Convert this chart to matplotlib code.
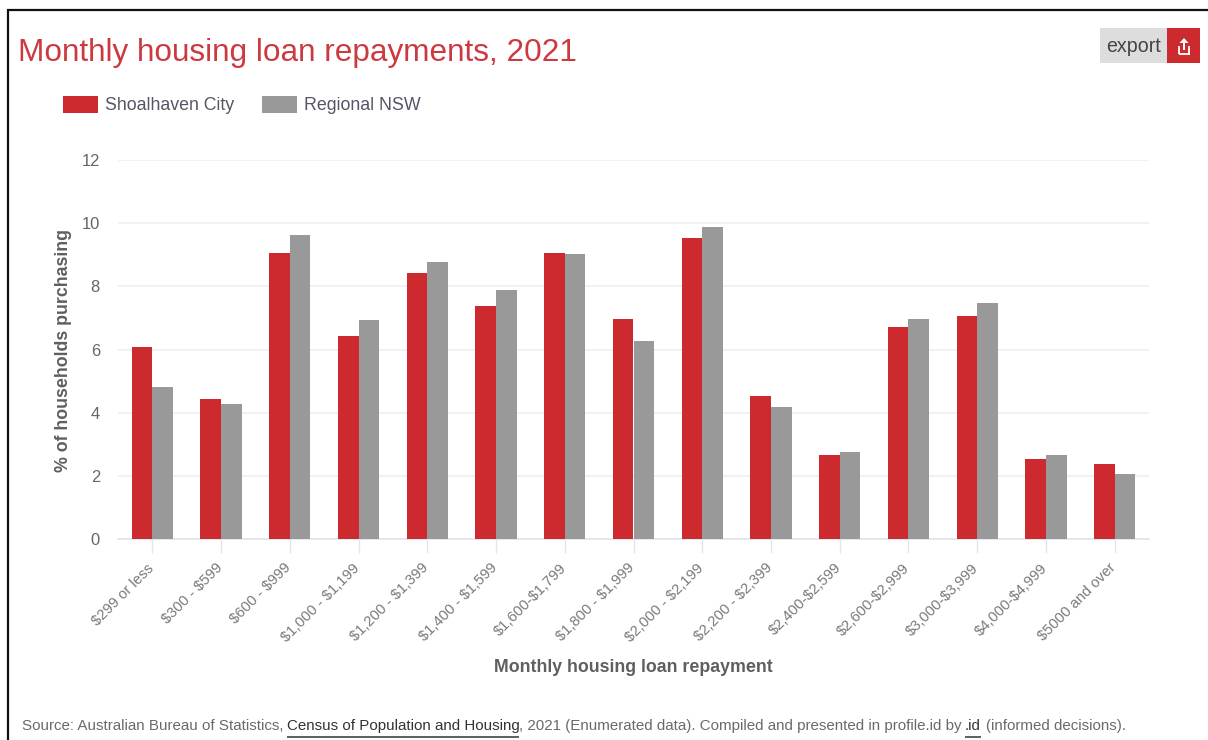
import numpy as np
import matplotlib
matplotlib.use('Agg')
import matplotlib.pyplot as plt
from matplotlib.lines import Line2D
from matplotlib.patches import Rectangle, Polygon
from matplotlib.transforms import ScaledTranslation

plt.rcParams['font.family'] = ['Liberation Sans', 'DejaVu Sans']
plt.rcParams['text.parse_math'] = False

categories = ['$299 or less', '$300 - $599', '$600 - $999', '$1,000 - $1,199', '$1,200 - $1,399',
              '$1,400 - $1,599', '$1,600-$1,799', '$1,800 - $1,999', '$2,000 - $2,199',
              '$2,200 - $2,399', '$2,400-$2,599', '$2,600-$2,999', '$3,000-$3,999',
              '$4,000-$4,999', '$5000 and over']
shoalhaven = [6.07, 4.42, 9.07, 6.42, 8.42, 7.37, 9.07, 6.97, 9.52, 4.52, 2.67, 6.72, 7.07, 2.53, 2.37]
regional_nsw = [4.82, 4.27, 9.62, 6.92, 8.77, 7.87, 9.02, 6.27, 9.87, 4.17, 2.77, 6.97, 7.47, 2.67, 2.07]
y_ticks = [0, 2, 4, 6, 8, 10, 12]

RED = '#cc2a2f'
GREY = '#999999'
W, H = 1208, 740

fig = plt.figure(figsize=(W / 100, H / 100), dpi=100)


def fx(px):
    return px / W


def fy(py):
    return 1 - py / H


def put_text(px, py, s, size, color, **kw):
    return fig.text(fx(px), fy(py), s, fontsize=size * 0.72, color=color, **kw)


def put_rect(x0, y0, x1, y1, color):
    fig.add_artist(Rectangle((fx(x0), fy(y1)), (x1 - x0) / W, (y1 - y0) / H,
                             transform=fig.transFigure, facecolor=color, edgecolor='none'))


def put_line(x0, y0, x1, y1, color, lw):
    fig.add_artist(Line2D([fx(x0), fx(x1)], [fy(y0), fy(y1)], color=color, lw=lw,
                          transform=fig.transFigure, solid_capstyle='butt'))


# plot area
ax = fig.add_axes([fx(118), fy(539), (1149 - 118) / W, (539 - 160) / H])
x = np.arange(len(categories))
bar_w = 0.3
ax.bar(x - bar_w / 2, shoalhaven, bar_w, color=RED, zorder=3)
ax.bar(x + bar_w / 2, regional_nsw, bar_w, color=GREY, zorder=3)

ax.set_xlim(-0.5, len(categories) - 0.5)
ax.set_ylim(0, 12)
ax.set_yticks(y_ticks)
ax.set_xticks(x)
ax.set_xticklabels(categories, rotation=45, ha='right', va='top', rotation_mode='anchor',
                   fontsize=14.8 * 0.72, color='#7a7a7a')
ax.tick_params(axis='x', length=10, width=1, color='#e3e6f0', pad=5)
ax.tick_params(axis='y', length=0, labelsize=16.5 * 0.72, labelcolor='#666666', pad=13)
ax.grid(axis='y', color='#eeeeee', lw=1.1, zorder=0)
ax.set_axisbelow(True)
for side in ['top', 'right', 'left']:
    ax.spines[side].set_visible(False)
ax.spines['bottom'].set_color('#dfe2ee')
ax.spines['bottom'].set_linewidth(1.2)

# nudge the rotated labels left so they finish under the ticks
nudge = ScaledTranslation(-6 / 100, -1 / 100, fig.dpi_scale_trans)
for lab in ax.get_xticklabels():
    lab.set_transform(lab.get_transform() + nudge)

# axis titles
put_text(633.5, 667, 'Monthly housing loan repayment', 17.8, '#5f5f5f', fontweight='bold',
         ha='center', va='center')
put_text(63, 351, '% of households purchasing', 17.8, '#5f5f5f', fontweight='bold',
         ha='center', va='center', rotation=90)

# title
put_text(18, 52.5, 'Monthly housing loan repayments, 2021', 31.5, '#cc3a40', ha='left', va='center')

# legend
put_rect(63, 96, 98, 113, RED)
put_text(105, 105, 'Shoalhaven City', 17.7, '#555566', ha='left', va='center')
put_rect(262, 96, 297, 113, GREY)
put_text(304, 105, 'Regional NSW', 17.7, '#555566', ha='left', va='center')

# export button
put_rect(1100, 28, 1167, 63, '#dddddd')
put_rect(1167, 28, 1200, 63, RED)
put_text(1134, 46.5, 'export', 19.7, '#444444', ha='center', va='center')
fig.add_artist(Polygon([[fx(1184), fy(38)], [fx(1188.5), fy(43)], [fx(1179.5), fy(43)]],
                       transform=fig.transFigure, facecolor='white', edgecolor='none'))
put_rect(1183, 42, 1185, 50, 'white')
put_line(1179, 46, 1179, 54, 'white', 1.3)
put_line(1189, 46, 1189, 54, 'white', 1.3)
put_line(1178.5, 54, 1189.5, 54, 'white', 1.3)

# source line
foot = '#6a6a6a'
put_text(22, 726, 'Source: Australian Bureau of Statistics,', 15.15, foot, ha='left', va='center')
put_text(287, 726, 'Census of Population and Housing', 15.15, '#333333', ha='left', va='center')
put_text(519, 726, ', 2021 (Enumerated data). Compiled and presented in profile.id by', 15.15, foot,
         ha='left', va='center')
put_text(965, 726, '.id', 15.15, '#333333', ha='left', va='center')
put_text(986, 726, '(informed decisions).', 15.15, foot, ha='left', va='center')
put_line(287, 736.5, 519, 736.5, '#444444', 1.2)
put_line(965, 736.5, 981, 736.5, '#444444', 1.2)

# frame along the top and left edges
put_line(7, 9.5, W, 9.5, '#111111', 1.6)
put_line(8, 9, 8, H, '#111111', 1.6)

fig.savefig('out.png', dpi=100, facecolor='white')
